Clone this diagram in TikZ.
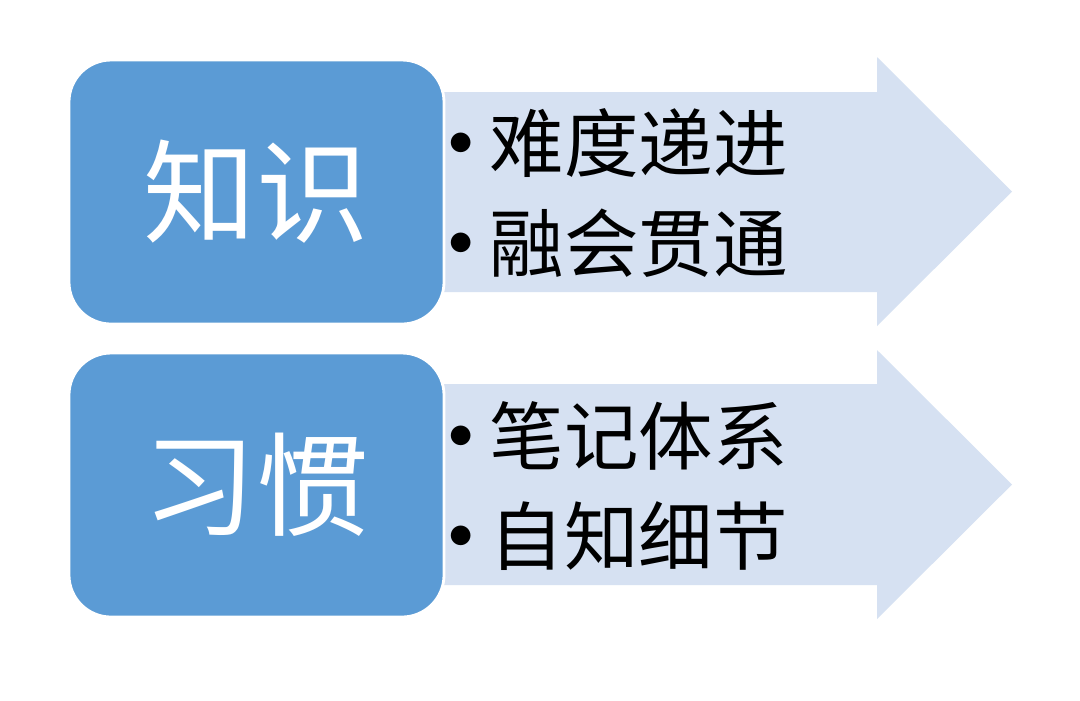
\documentclass[tikz,border=0pt]{standalone}
\usepackage{fontspec}
\newfontfamily\cjk{Noto Sans CJK SC}
\usepackage{xcolor}
\usepackage{tikz}
\usetikzlibrary{positioning, calc}

\definecolor{boxblue}{HTML}{5B9BD5}
\definecolor{arrowblue}{HTML}{D6E1F2}
\newcommand{\bul}{\makebox[0.43cm][l]{\hspace{0.02cm}\raisebox{0.22em}{\fontsize{13.5}{13.5}\selectfont$\bullet$}}}

\tikzset{
  headbox/.style={fill=boxblue, draw=white, thick, rounded corners=0.42cm},
  headtext/.style={text=white, font=\cjk\fontsize{32}{36}\selectfont},
  itemtext/.style={anchor=west, inner sep=0pt, align=left, font=\cjk\fontsize{21.2}{28.45}\selectfont}
}

\begin{document}
\begin{tikzpicture}
    \useasboundingbox[fill=white] (0,0) rectangle (10.8,-7.0);

    % Row 1: knowledge
    \fill[arrowblue] (2.6,-0.92) -- (8.77,-0.92) -- (8.77,-0.57) -- (10.12,-1.915) -- (8.77,-3.26) -- (8.77,-2.92) -- (2.6,-2.92) -- cycle;
    \draw[headbox] (0.69,-0.60) rectangle (4.44,-3.24);
    \node[headtext] (know) at (2.56,-1.92) {知识};
    \node[itemtext] (knowlist) at (4.46,-1.93) {\bul 难度递进\\\bul 融会贯通};

    % Row 2: habits
    \fill[arrowblue] (2.6,-3.84) -- (8.77,-3.84) -- (8.77,-3.50) -- (10.12,-4.845) -- (8.77,-6.19) -- (8.77,-5.85) -- (2.6,-5.85) -- cycle;
    \draw[headbox] (0.69,-3.53) rectangle (4.44,-6.17);
    \node[headtext] (habit) at (2.56,-4.85) {习惯};
    \node[itemtext] (habitlist) at (4.46,-4.86) {\bul 笔记体系\\\bul 自知细节};
\end{tikzpicture}
\end{document}
